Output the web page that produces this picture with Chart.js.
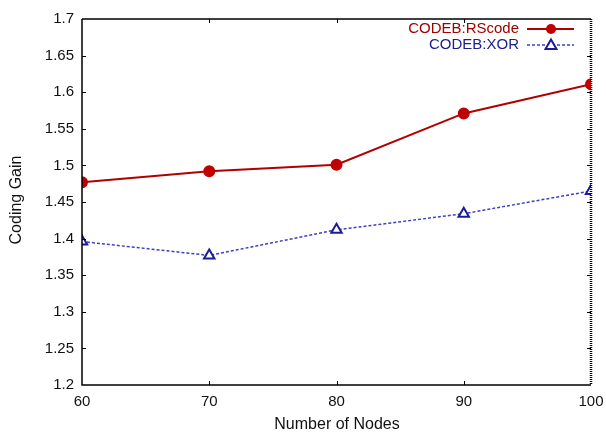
<!DOCTYPE html>
<html>
<head>
<meta charset="utf-8">
<script src="https://cdn.jsdelivr.net/npm/chart.js@4.4.0/dist/chart.umd.min.js"></script>
<style>
  html, body { margin: 0; padding: 0; background: #fff; }
  #wrap { width: 606px; height: 436px; position: relative; }
</style>
</head>
<body>
<div id="wrap"><canvas id="c" width="606" height="436"></canvas></div>
<script>
// Number of nodes on the x axis
const nodes = [60, 70, 80, 90, 100];
// Coding gain per scheme
const rscode = [1.477, 1.492, 1.501, 1.571, 1.611];
const xor = [1.396, 1.377, 1.412, 1.434, 1.465];
// Axis ranges and tick steps
const xTicks = [60, 70, 80, 90, 100];
const yMin = 1.2, yMax = 1.7, yStep = 0.05;
const seriesNames = ['CODEB:RScode', 'CODEB:XOR'];

const FONT = 'Liberation Sans, Arial, Helvetica, sans-serif';
const RED = '#b00000';
const BLUE = '#2a2aa8';

function pts(vals) { return nodes.map((n, i) => ({ x: n, y: vals[i] })); }

// Frame, inward ticks, axis titles and in-plot legend
const framePlugin = {
  id: 'frame',
  afterDraw(chart) {
    const { ctx, chartArea: a, scales } = chart;
    const xs = scales.x, ys = scales.y;
    ctx.save();
    ctx.strokeStyle = '#000';
    ctx.lineWidth = 1.5;
    ctx.setLineDash([]);
    ctx.beginPath();
    ctx.moveTo(a.left, a.top); ctx.lineTo(a.right, a.top);
    ctx.moveTo(a.left, a.top); ctx.lineTo(a.left, a.bottom);
    ctx.lineTo(a.right, a.bottom);
    ctx.stroke();
    // right edge drawn as a fine dotted rule
    ctx.lineWidth = 2.5;
    ctx.setLineDash([1, 1]);
    ctx.beginPath();
    ctx.moveTo(a.right, a.top); ctx.lineTo(a.right, a.bottom);
    ctx.stroke();
    ctx.setLineDash([]);
    ctx.lineWidth = 1;
    ctx.beginPath();
    for (let v = yMin + yStep; v < yMax - 1e-9; v += yStep) {
      const y = Math.round(ys.getPixelForValue(v)) + 0.5;
      ctx.moveTo(a.left, y); ctx.lineTo(a.left + 4, y);
      ctx.moveTo(a.right, y); ctx.lineTo(a.right - 4, y);
    }
    xTicks.slice(1, -1).forEach(v => {
      const x = Math.round(xs.getPixelForValue(v)) + 0.5;
      ctx.moveTo(x, a.bottom); ctx.lineTo(x, a.bottom - 4);
      ctx.moveTo(x, a.top); ctx.lineTo(x, a.top + 4);
    });
    ctx.stroke();

    // axis titles
    ctx.fillStyle = '#111';
    ctx.font = '16px ' + FONT;
    ctx.textAlign = 'center';
    ctx.textBaseline = 'middle';
    ctx.fillText('Number of Nodes', 337, 425);
    ctx.save();
    ctx.translate(17, 200);
    ctx.rotate(-Math.PI / 2);
    ctx.fillText('Coding Gain', 0, 0);
    ctx.restore();

    // legend
    ctx.font = '15px ' + FONT;
    ctx.textAlign = 'right';
    const rows = [
      { y: 29, ds: chart.data.datasets[0] },
      { y: 45, ds: chart.data.datasets[1] }
    ];
    rows.forEach((r, i) => {
      ctx.fillStyle = i === 0 ? '#a00000' : '#1c1c8c';
      ctx.fillText(seriesNames[i], 519, r.y);
      ctx.strokeStyle = r.ds.borderColor;
      ctx.lineWidth = r.ds.borderWidth;
      ctx.setLineDash(r.ds.borderDash || []);
      ctx.beginPath();
      ctx.moveTo(527, r.y); ctx.lineTo(574, r.y);
      ctx.stroke();
      ctx.setLineDash([]);
      if (i === 0) {
        ctx.fillStyle = '#c00000';
        ctx.beginPath(); ctx.arc(551, r.y, 5, 0, Math.PI * 2); ctx.fill();
      } else {
        ctx.fillStyle = '#fff';
        ctx.strokeStyle = '#1c1c9a';
        ctx.lineWidth = 2;
        ctx.beginPath();
        ctx.moveTo(551, r.y - 5.5); ctx.lineTo(556.5, r.y + 4); ctx.lineTo(545.5, r.y + 4);
        ctx.closePath(); ctx.fill(); ctx.stroke();
      }
    });
    ctx.restore();
  }
};

new Chart(document.getElementById('c'), {
  type: 'line',
  data: {
    datasets: [
      {
        label: seriesNames[0], data: pts(rscode),
        borderColor: RED, borderWidth: 2,
        pointStyle: 'circle', pointRadius: 5,
        pointBackgroundColor: '#c00000', pointBorderColor: '#c00000',
        tension: 0
      },
      {
        label: seriesNames[1], data: pts(xor),
        borderColor: '#4040c0', borderWidth: 1.5, borderDash: [3, 2],
        pointStyle: 'triangle', pointRadius: 6,
        pointBackgroundColor: '#fff', pointBorderColor: '#1c1c9a', pointBorderWidth: 2,
        tension: 0
      }
    ]
  },
  options: {
    responsive: false,
    animation: false,
    devicePixelRatio: 1,
    layout: { padding: { top: 19, right: 15, left: 0, bottom: 0 } },
    plugins: { legend: { display: false }, tooltip: { enabled: false } },
    scales: {
      x: {
        type: 'linear', min: 60, max: 100,
        afterBuildTicks(s) { s.ticks = xTicks.map(v => ({ value: v })); },
        afterFit(s) { s.height = 51; s.paddingLeft = 0; s.paddingRight = 0; },
        grid: { display: false, drawTicks: false },
        border: { display: false },
        ticks: { padding: 8, color: '#111', font: { family: FONT, size: 15 } }
      },
      y: {
        type: 'linear', min: yMin, max: yMax,
        afterFit(s) { s.width = 82; s.paddingTop = 0; s.paddingBottom = 0; },
        grid: { display: false, drawTicks: false },
        border: { display: false },
        ticks: {
          stepSize: yStep, padding: 8, color: '#111',
          font: { family: FONT, size: 15 },
          callback: v => String(parseFloat(v.toFixed(2)))
        }
      }
    }
  },
  plugins: [framePlugin]
});
</script>
</body>
</html>
